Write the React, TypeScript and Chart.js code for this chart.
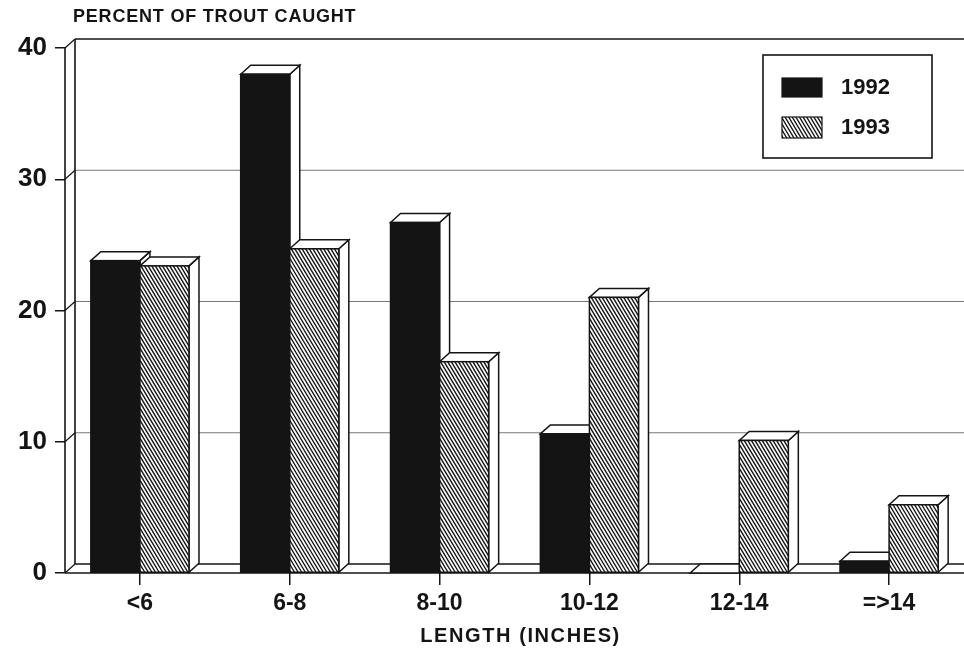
import React, { useEffect, useRef } from 'react';
import Chart from 'chart.js/auto';

const categories = ['<6', '6-8', '8-10', '10-12', '12-14', '=>14'];
const series1992 = [23.8, 38.0, 26.7, 10.6, 0, 0.9];
const series1993 = [23.4, 24.7, 16.1, 21.0, 10.1, 5.2];
const seriesLabels = ['1992', '1993'];
const yTicks = [0, 10, 20, 30, 40];
const chartTitle = 'PERCENT OF TROUT CAUGHT';
const xTitle = 'LENGTH (INCHES)';

const DX = 10;
const DY = -9;
const FONT = '"Liberation Sans", Arial, Helvetica, sans-serif';
const INK = '#141414';

function hatchRect(ctx: CanvasRenderingContext2D, x: number, y: number, w: number, h: number) {
  ctx.save();
  ctx.fillStyle = '#fff';
  ctx.fillRect(x, y, w, h);
  ctx.beginPath();
  ctx.rect(x, y, w, h);
  ctx.clip();
  ctx.strokeStyle = INK;
  ctx.lineWidth = 1.4;
  const slope = 0.6;
  for (let x0 = x - h * slope - 6; x0 < x + w + 6; x0 += 3.6) {
    ctx.beginPath();
    ctx.moveTo(x0, y);
    ctx.lineTo(x0 + h * slope, y + h);
    ctx.stroke();
  }
  ctx.restore();
}

function line(ctx: CanvasRenderingContext2D, x1: number, y1: number, x2: number, y2: number) {
  ctx.beginPath();
  ctx.moveTo(x1, y1);
  ctx.lineTo(x2, y2);
  ctx.stroke();
}

const threeD = {
  id: 'threeD',
  beforeDatasetsDraw(chart: any) {
    const { ctx, chartArea } = chart;
    const { left, right, top, bottom } = chartArea;
    const ys = chart.scales.y;
    ctx.save();
    ctx.strokeStyle = '#777';
    ctx.lineWidth = 1;
    yTicks.forEach((v) => {
      if (v === yTicks[0] || v === yTicks[yTicks.length - 1]) return;
      const py = ys.getPixelForValue(v);
      line(ctx, left + DX, py + DY, right + DX, py + DY);
    });
    ctx.strokeStyle = INK;
    ctx.lineWidth = 1.2;
    yTicks.forEach((v) => {
      const py = ys.getPixelForValue(v);
      line(ctx, left, py, left + DX, py + DY);
    });
    ctx.lineWidth = 1.6;
    line(ctx, left + DX, top + DY, right + DX, top + DY);
    line(ctx, left + DX, top + DY, left + DX, bottom + DY);
    line(ctx, left, top, left, bottom);
    line(ctx, left, bottom, right, bottom);
    line(ctx, left + DX, bottom + DY, right + DX, bottom + DY);
    ctx.restore();
  },
  afterDatasetsDraw(chart: any) {
    const { ctx } = chart;
    const bars: any[] = [];
    chart.data.datasets.forEach((_: any, di: number) => {
      const meta = chart.getDatasetMeta(di);
      meta.data.forEach((el: any) => {
        const p = el.getProps(['x', 'y', 'base', 'width'], true);
        bars.push({ di, l: p.x - p.width / 2, r: p.x + p.width / 2, t: Math.min(p.y, p.base), b: p.base });
      });
    });
    bars.sort((a, b) => a.l - b.l);
    ctx.save();
    ctx.lineJoin = 'miter';
    bars.forEach((bar) => {
      const { l, r, t, b, di } = bar;
      ctx.beginPath();
      ctx.moveTo(r, t);
      ctx.lineTo(r + DX, t + DY);
      ctx.lineTo(r + DX, b + DY);
      ctx.lineTo(r, b);
      ctx.closePath();
      ctx.fillStyle = '#fff';
      ctx.fill();
      ctx.strokeStyle = INK;
      ctx.lineWidth = 1.5;
      ctx.stroke();
      ctx.beginPath();
      ctx.moveTo(l, t);
      ctx.lineTo(l + DX, t + DY);
      ctx.lineTo(r + DX, t + DY);
      ctx.lineTo(r, t);
      ctx.closePath();
      ctx.fillStyle = '#fff';
      ctx.fill();
      ctx.stroke();
      if (b - t > 0.5) {
        if (di === 0) {
          ctx.fillStyle = INK;
          ctx.fillRect(l, t, r - l, b - t);
        } else {
          hatchRect(ctx, l, t, r - l, b - t);
        }
        ctx.strokeStyle = INK;
        ctx.lineWidth = 1.5;
        ctx.strokeRect(l, t, r - l, b - t);
      }
    });
    ctx.restore();
  },
  afterDraw(chart: any) {
    const { ctx, chartArea } = chart;
    ctx.save();
    ctx.fillStyle = INK;
    ctx.font = `bold 18px ${FONT}`;
    ctx.textAlign = 'left';
    ctx.textBaseline = 'middle';
    (ctx as any).letterSpacing = '0.8px';
    ctx.fillText(chartTitle, 73, 17);
    ctx.font = `bold 20px ${FONT}`;
    (ctx as any).letterSpacing = '1.6px';
    ctx.textAlign = 'center';
    ctx.fillText(xTitle, (chartArea.left + chartArea.right) / 2 + 6, 636);
    (ctx as any).letterSpacing = '0px';
    const bx = chartArea.right - 201;
    const by = chartArea.top + 7;
    ctx.strokeStyle = INK;
    ctx.lineWidth = 1.6;
    ctx.fillStyle = '#fff';
    ctx.fillRect(bx, by, 169, 103);
    ctx.strokeRect(bx, by, 169, 103);
    ctx.fillStyle = INK;
    ctx.fillRect(bx + 19, by + 23, 40, 19);
    ctx.lineWidth = 1.2;
    ctx.strokeRect(bx + 19, by + 23, 40, 19);
    hatchRect(ctx, bx + 19, by + 62, 40, 21);
    ctx.strokeStyle = INK;
    ctx.lineWidth = 1.2;
    ctx.strokeRect(bx + 19, by + 62, 40, 21);
    ctx.fillStyle = INK;
    ctx.font = `bold 22px ${FONT}`;
    ctx.textAlign = 'left';
    ctx.textBaseline = 'middle';
    ctx.fillText(chart.data.datasets[0].label, bx + 78, by + 33);
    ctx.fillText(chart.data.datasets[1].label, bx + 78, by + 73);
    ctx.restore();
  },
};

export default function App() {
  const ref = useRef<HTMLCanvasElement | null>(null);
  useEffect(() => {
    if (!ref.current) return;
    const chart = new Chart(ref.current, {
      type: 'bar',
      data: {
        labels: categories,
        datasets: [
          { label: seriesLabels[0], data: series1992, backgroundColor: 'rgba(0,0,0,0)', borderWidth: 0 },
          { label: seriesLabels[1], data: series1993, backgroundColor: 'rgba(0,0,0,0)', borderWidth: 0 },
        ],
      },
      options: {
        animation: false,
        responsive: false,
        devicePixelRatio: 1,
        datasets: { bar: { barPercentage: 1, categoryPercentage: 0.655 } },
        layout: { padding: { top: 48, left: 0, right: 0, bottom: 0 } },
        plugins: { legend: { display: false }, title: { display: false }, tooltip: { enabled: false } },
        scales: {
          x: {
            grid: { display: true, drawOnChartArea: false, drawTicks: true, tickLength: 12, offset: false, color: INK, lineWidth: 1.5 },
            border: { display: false },
            ticks: { font: { family: FONT, size: 23, weight: 'bold' }, color: INK, padding: 5, maxRotation: 0 },
            afterFit: (s: any) => { s.height = 78; },
          },
          y: {
            min: 0,
            max: 40,
            afterBuildTicks: (s: any) => { s.ticks = yTicks.map((v) => ({ value: v })); },
            grid: { display: true, drawOnChartArea: false, drawTicks: true, tickLength: 10, color: INK, lineWidth: 1.5 },
            border: { display: false },
            ticks: { font: { family: FONT, size: 26, weight: 'bold' }, color: INK, padding: 8 },
            afterFit: (s: any) => { s.width = 65; },
          },
        },
      },
      plugins: [threeD],
    } as any);
    return () => chart.destroy();
  }, []);
  return (
    <div style={{ position: 'fixed', left: 0, top: 0, width: 964, height: 651, background: '#fff' }}>
      <canvas ref={ref} width={964} height={651} style={{ display: 'block' }} />
    </div>
  );
}
